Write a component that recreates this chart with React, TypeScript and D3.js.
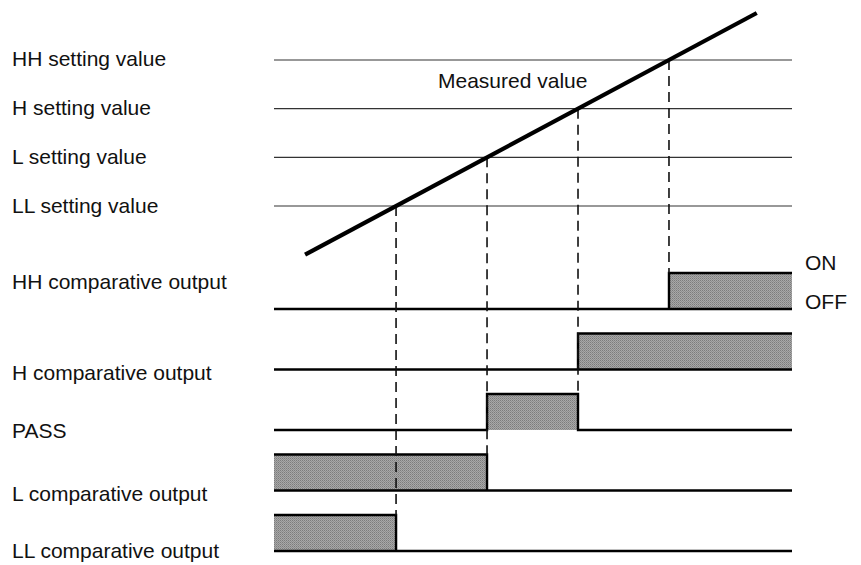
import React from "react";
import * as d3 from "d3";

// ---- data ----
const settingLabels = ["HH setting value", "H setting value", "L setting value", "LL setting value"];
const settingKeys = ["HH", "H", "L", "LL"];
const settingValues = [80, 60, 40, 20];

const measuredTimes = [6, 93.2];
const measuredValues = [0, 99.3];
const measuredLabel = "Measured value";

const outputLabels = ["HH comparative output", "H comparative output", "PASS", "L comparative output", "LL comparative output"];
const outputOnFrom = ["HH", "H", "L", "START", "START"];
const outputOnTo = ["END", "END", "H", "L", "LL"];

const stateLabels = ["ON", "OFF"];

// ---- layout ----
const W = 861, H = 565;
const FONT = "'Liberation Sans', Arial, Helvetica, sans-serif";
const labelDy = [-27, 3, 1, 3, 0];

export default function App() {
  const x = d3.scaleLinear().domain([0, 100]).range([274, 792]);
  const y = d3.scaleLinear().domain([0, 100]).range([254.7, 11.3]);
  const row = d3.scaleLinear().domain([0, 4]).range([309, 551]);
  const barH = 36;

  const tOf = d3.scaleLinear().domain(measuredValues).range(measuredTimes);
  const crossT: Record<string, number> = { START: 0, END: 100 };
  settingKeys.forEach((k, i) => (crossT[k] = tOf(settingValues[i])));

  const line = d3.line<[number, number]>().x(d => x(d[0])).y(d => y(d[1]));
  const measuredPts: [number, number][] = measuredTimes.map((t, i) => [t, measuredValues[i]]);

  const dashEndRow: Record<string, number> = {};
  outputLabels.forEach((_, i) => {
    [outputOnFrom[i], outputOnTo[i]].forEach(k => {
      if (k !== "START" && k !== "END") {
        dashEndRow[k] = Math.max(dashEndRow[k] ?? -1, i);
      }
    });
  });

  return (
    <svg width={W} height={H} style={{ position: "absolute", left: 0, top: 0, background: "#fff" }}>
      <defs>
        <pattern id="dither" width={2} height={2} patternUnits="userSpaceOnUse">
          <rect x={0} y={0} width={2} height={2} fill="#a8a8a8" />
          <rect x={0} y={0} width={1} height={1} fill="#7c7c7c" />
          <rect x={1} y={1} width={1} height={1} fill="#8e8e8e" />
        </pattern>
      </defs>

      {settingValues.map((v, i) => (
        <g key={settingKeys[i]}>
          <line x1={x(0)} x2={x(100)} y1={y(v)} y2={y(v)} stroke="#333" strokeWidth={1.2} />
          <text x={12} y={y(v) + 6.5} fontFamily={FONT} fontSize={21} fill="#111">
            {settingLabels[i]}
          </text>
        </g>
      ))}

      {outputLabels.map((lab, i) => {
        const b = row(i);
        const t = b - barH;
        const x0 = x(crossT[outputOnFrom[i]]);
        const x1 = x(crossT[outputOnTo[i]]);
        const xs = x(0), xe = x(100);
        const p = d3.path();
        if (x0 > xs) {
          p.moveTo(xs, b);
          p.lineTo(x0, b);
          p.lineTo(x0, t);
        } else {
          p.moveTo(x0, t);
        }
        p.lineTo(x1, t);
        if (x1 < xe) {
          p.lineTo(x1, b);
          p.lineTo(xe, b);
        } else {
          p.moveTo(x0, b);
          p.lineTo(xe, b);
        }
        if (x0 <= xs) {
          p.moveTo(xs, b);
          p.lineTo(x1, b);
        }
        return (
          <g key={lab}>
            <rect x={x0} y={t} width={x1 - x0} height={barH} fill="url(#dither)" />
            <path d={p.toString()} fill="none" stroke="#000" strokeWidth={2.4} />
            <text x={12} y={b + 7 + labelDy[i]} fontFamily={FONT} fontSize={21} fill="#111">
              {lab}
            </text>
          </g>
        );
      })}

      {settingKeys.map((k, i) => (
        <line
          key={"d" + k}
          x1={x(crossT[k])}
          x2={x(crossT[k])}
          y1={y(settingValues[i])}
          y2={row(dashEndRow[k]) - barH}
          stroke="#111"
          strokeWidth={1.6}
          strokeDasharray="10,6"
        />
      ))}

      <path d={line(measuredPts) ?? ""} fill="none" stroke="#000" strokeWidth={4.2} />
      <text x={438} y={88} fontFamily={FONT} fontSize={21} fill="#111">
        {measuredLabel}
      </text>

      <text x={805} y={row(0) - barH - 3} fontFamily={FONT} fontSize={21} fill="#111">
        {stateLabels[0]}
      </text>
      <text x={805} y={row(0)} fontFamily={FONT} fontSize={21} fill="#111">
        {stateLabels[1]}
      </text>
    </svg>
  );
}
